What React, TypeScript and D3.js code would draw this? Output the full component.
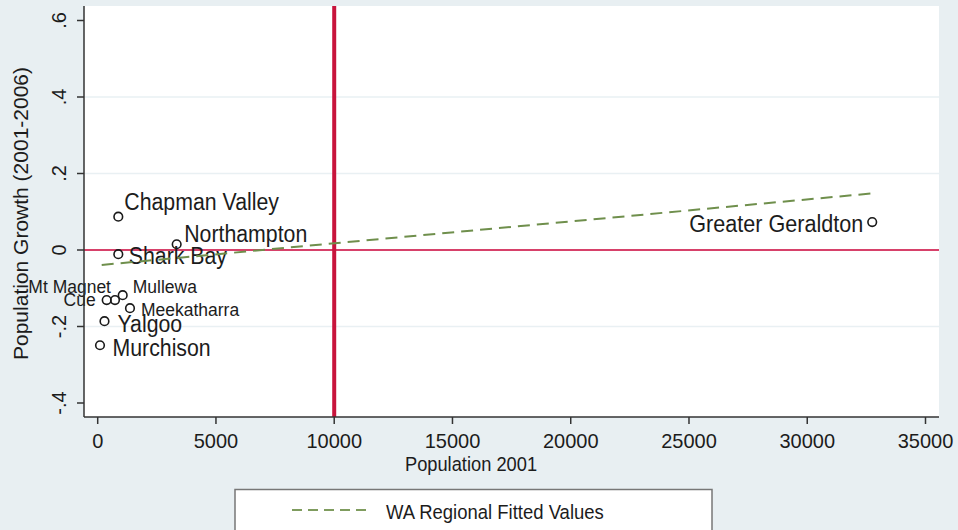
import React from "react";
import * as d3 from "d3";

// ---- Data ----
const lgaNames = [
  "Chapman Valley",
  "Northampton",
  "Shark Bay",
  "Mt Magnet",
  "Cue",
  "Mullewa",
  "Meekatharra",
  "Yalgoo",
  "Murchison",
  "Greater Geraldton",
];
const population2001 = [871, 3339, 871, 731, 380, 1057, 1365, 287, 97, 32747];
const growth2001to2006 = [0.087, 0.015, -0.011, -0.131, -0.131, -0.118, -0.152, -0.186, -0.249, 0.073];

// Fitted values (WA regional) - endpoints of the linear fit
const fittedPop = [169, 32747];
const fittedGrowth = [-0.039, 0.148];

const xTicks = [0, 5000, 10000, 15000, 20000, 25000, 30000, 35000];
const yTicks = [-0.4, -0.2, 0, 0.2, 0.4, 0.6];
const yTickLabels = ["-.4", "-.2", "0", ".2", ".4", ".6"];
const yGridValues = [-0.2, 0.2, 0.4];
const xRefValue = 10000;
const yRefValue = 0;

const xTitle = "Population 2001";
const yTitle = "Population Growth (2001-2006)";
const legendLabel = "WA Regional Fitted Values";

// ---- Label placement (styling) ----
type LabelStyle = { dx: number; dy: number; anchor: "start" | "end"; size: number };
const labelStyles: Record<string, LabelStyle> = {
  "Chapman Valley": { dx: 6, dy: -6.5, anchor: "start", size: 21.3 },
  Northampton: { dx: 7.5, dy: -2.5, anchor: "start", size: 21.3 },
  "Shark Bay": { dx: 10.5, dy: 10, anchor: "start", size: 21.3 },
  "Mt Magnet": { dx: -4, dy: -7, anchor: "end", size: 17.5 },
  Cue: { dx: -11, dy: 6, anchor: "end", size: 17.5 },
  Mullewa: { dx: 10, dy: -2.3, anchor: "start", size: 17.5 },
  Meekatharra: { dx: 11, dy: 8, anchor: "start", size: 17.5 },
  Yalgoo: { dx: 13, dy: 10.5, anchor: "start", size: 21.3 },
  Murchison: { dx: 12.5, dy: 10.5, anchor: "start", size: 21.3 },
  "Greater Geraldton": { dx: -9, dy: 10.3, anchor: "end", size: 21.6 },
};

const W = 958;
const H = 530;
const plot = { left: 84, right: 939, top: 6, bottom: 417 };
const FONT = "'Liberation Sans', Arial, Helvetica, sans-serif";
const BG = "#e8eff2";
const TEXT = "#1c1c1c";

export default function App() {
  const x = d3.scaleLinear().domain([0, 35000]).range([97.7, 925.5]);
  const y = d3.scaleLinear().domain([-0.4, 0.6]).range([403, 20.5]);

  const fitLine = d3
    .line<number>()
    .x((_, i) => x(fittedPop[i]))
    .y((d) => y(d));

  return (
    <svg
      width={W}
      height={H}
      style={{ position: "absolute", left: 0, top: 0, fontFamily: FONT }}
    >
      <rect x={0} y={0} width={W} height={H} fill={BG} />
      <rect
        x={plot.left}
        y={plot.top}
        width={plot.right - plot.left}
        height={plot.bottom - plot.top}
        fill="#ffffff"
      />
      {/* grid */}
      {yGridValues.map((v) => (
        <line
          key={"g" + v}
          x1={plot.left}
          x2={plot.right}
          y1={y(v)}
          y2={y(v)}
          stroke="#e9f0f3"
          strokeWidth={1.5}
        />
      ))}
      {/* reference lines */}
      <line
        x1={plot.left}
        x2={plot.right}
        y1={y(yRefValue)}
        y2={y(yRefValue)}
        stroke="#d7416a"
        strokeWidth={2}
      />
      <line
        x1={x(xRefValue)}
        x2={x(xRefValue)}
        y1={plot.top}
        y2={plot.bottom}
        stroke="#c8143c"
        strokeWidth={4}
      />
      {/* points */}
      {lgaNames.map((name, i) => {
        const cx = x(population2001[i]);
        const cy = y(growth2001to2006[i]);
        const s = labelStyles[name];
        return (
          <g key={name}>
            <circle cx={cx} cy={cy} r={4.3} fill="none" stroke="#1a1a1a" strokeWidth={1.6} />
            <text
              transform={`translate(${cx + s.dx},${cy + s.dy}) scale(1,1.08)`}
              textAnchor={s.anchor}
              fontSize={s.size}
              fill={TEXT}
            >
              {name}
            </text>
          </g>
        );
      })}
      {/* fitted line */}
      <path
        d={fitLine(fittedGrowth) || ""}
        fill="none"
        stroke="#6f8f4c"
        strokeWidth={2}
        strokeDasharray="12 7"
      />
      {/* axes */}
      <line x1={plot.left} x2={plot.left} y1={plot.top} y2={plot.bottom} stroke="#333" strokeWidth={1.5} />
      <line x1={plot.left} x2={plot.right} y1={plot.bottom} y2={plot.bottom} stroke="#333" strokeWidth={1.5} />
      {yTicks.map((v, i) => (
        <g key={"yt" + v}>
          <line x1={plot.left - 7} x2={plot.left} y1={y(v)} y2={y(v)} stroke="#333" strokeWidth={1.5} />
          <text
            transform={`translate(66,${y(v)}) rotate(-90)`}
            textAnchor="middle"
            fontSize={20}
            fill={TEXT}
          >
            {yTickLabels[i]}
          </text>
        </g>
      ))}
      {xTicks.map((v) => (
        <g key={"xt" + v}>
          <line x1={x(v)} x2={x(v)} y1={plot.bottom} y2={plot.bottom + 7} stroke="#333" strokeWidth={1.5} />
          <text
            transform={`translate(${x(v)},448) scale(1,1.05)`}
            textAnchor="middle"
            fontSize={20}
            fill={TEXT}
          >
            {v}
          </text>
        </g>
      ))}
      <text
        transform="translate(471,471) scale(1,1.12)"
        textAnchor="middle"
        fontSize={18.3}
        fill={TEXT}
      >
        {xTitle}
      </text>
      <text
        transform={`translate(28,${(plot.top + plot.bottom) / 2 + 2}) rotate(-90)`}
        textAnchor="middle"
        fontSize={21}
        fill={TEXT}
      >
        {yTitle}
      </text>
      {/* legend */}
      <rect x={235} y={489.5} width={477} height={60} fill="#ffffff" stroke="#777" strokeWidth={1.5} />
      <line x1={292} x2={366} y1={510} y2={510} stroke="#7f9c5e" strokeWidth={2} strokeDasharray="10 6" />
      <text transform="translate(386,519) scale(1,1.12)" fontSize={18.5} fill={TEXT}>
        {legendLabel}
      </text>
    </svg>
  );
}
